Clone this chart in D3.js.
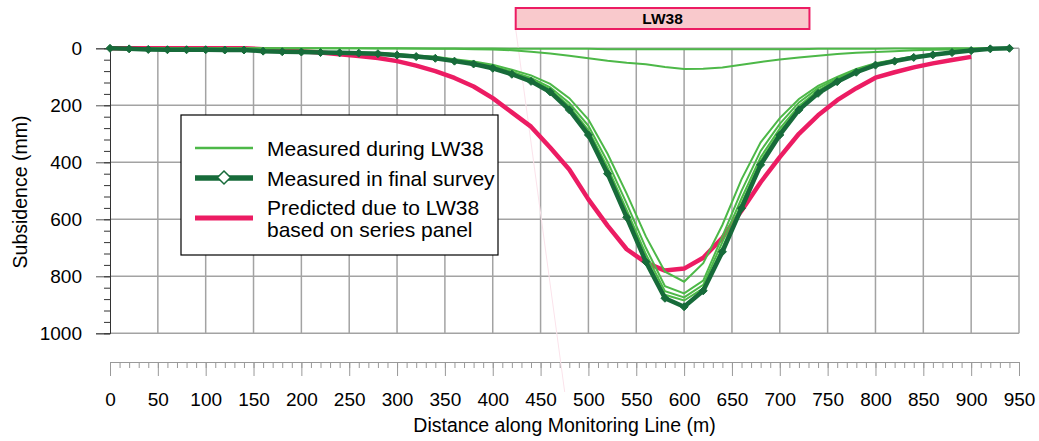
<!DOCTYPE html>
<html>
<head>
<meta charset="utf-8">
<script src="https://cdn.jsdelivr.net/npm/d3@7"></script>
<style>
  body { margin: 0; background: #fff; }
  text { font-family: "Liberation Sans", Arial, sans-serif; fill: #000; }
</style>
</head>
<body>
<script>
// distances along the line (m), every survey peg
const distance = [0,20,40,60,80,100,120,140,160,180,200,220,240,260,280,300,320,340,360,380,
  400,420,440,460,480,500,520,540,560,580,600,620,640,660,680,700,720,740,760,780,
  800,820,840,860,880,900,920,940];

// measured in final survey (mm)
const finalSurvey = [0,2,4,5,5,5,6,6,10,12, 13,15,16,17,19,24,29,35,45,55,
  70,91,116,153,216,304,440,593,749,877, 907,851,714,561,409,304,216,158,117,84,
  59,45,32,23,15,8,2,0];

// measured during LW38 (several surveys)
const duringA = [0,0,0,0,0,0,0,0,0,0, 0,0,0,0,0,0,1,1,1,1,
  1,2,2,2,2,2,3,3,3,3, 3,3,3,3,3,3,3,2,2,2, 2,1,1,1,0,0,0,0];
const duringB = [0,0,0,0,0,0,0,0,0,0, 0,0,0,0,1,1,1,2,2,3,
  4,7,12,18,26,35,44,51,56,66, 73,72,67,58,48,39,32,26,20,16, 13,10,7,5,4,3,1,0];
const duringC = [0,1,3,4,4,4,5,5,8,10, 11,13,14,15,16,20,25,30,38,46,
  58,75,95,125,175,250,370,510,660,784, 819,754,620,460,330,245,178,132,100,72,
  52,40,28,20,13,7,2,0];
const duringD = [0,1,3,4,4,4,5,5,9,11, 12,14,15,16,17,21,27,32,41,50,
  63,82,104,137,192,272,398,545,700,835, 860,815,660,500,360,265,190,140,106,76,
  54,42,30,21,14,7,2,0];
const duringE = [0,2,4,5,5,5,6,6,9,11, 12,14,15,16,18,22,28,33,42,52,
  66,86,109,144,203,288,418,568,722,852, 874,830,680,527,382,282,202,148,111,79,
  56,43,31,22,14,8,2,0];
const duringF = [0,2,4,5,5,5,6,6,10,12, 13,15,16,17,19,23,29,34,44,54,
  68,89,113,149,210,296,430,582,738,865, 885,842,700,545,395,293,209,153,114,81,
  57,44,31,22,15,8,2,0];
const duringSurveys = [duringA, duringB, duringC, duringD, duringE, duringF];

// predicted due to LW38 (0 - 900 m)
const predicted = [0,0,0,0,0,0,0,0,3,6, 10,15,21,27,34,45,61,80,104,134,
  175,225,275,348,425,530,622,705,752,780, 773,735,665,570,470,382,300,235,182,140,
  103,84,67,53,41,30];

const yMajor = [0,200,400,600,800,1000];
const xMajor = [0,50,100,150,200,250,300,350,400,450,500,550,600,650,700,750,800,850,900,950];
const panelName = "LW38";
const panelFrom = 424, panelTo = 731;

const darkGreen = "#176b3a", lightGreen = "#4db848", pink = "#ec1c63";

const svg = d3.select("body").append("svg")
  .attr("width", 1039)
  .attr("height", 441);

const x = d3.scaleLinear().domain([0, 950]).range([110, 1019]);
const y = d3.scaleLinear().domain([0, 1000]).range([48.3, 333.3]);

// grid
svg.append("g").selectAll("line")
  .data(xMajor.slice(1))
  .enter().append("line")
  .attr("x1", d => x(d)).attr("x2", d => x(d))
  .attr("y1", y(0)).attr("y2", y(1000))
  .attr("stroke", "#a3a3a3").attr("stroke-width", 1.5)

svg.append("g").selectAll("line")
  .data(yMajor)
  .enter().append("line")
  .attr("x1", x(0)).attr("x2", x(950))
  .attr("y1", d => y(d)).attr("y2", d => y(d))
  .attr("stroke", "#a3a3a3").attr("stroke-width", 1.5)

// y axis
const yAxis = svg.append("g")
  .attr("transform", `translate(${x(0)},0)`)
  .call(d3.axisLeft(y).tickValues(yMajor).tickSize(14).tickPadding(14).tickFormat(d3.format("d")))
yAxis.select(".domain").attr("stroke", "#333")
yAxis.selectAll(".tick line").attr("stroke", "#555")
yAxis.selectAll("text").style("font-size", "19px").attr("fill", "#000")

const yMinor = svg.append("g")
  .attr("transform", `translate(${x(0)},0)`)
  .call(d3.axisLeft(y).tickValues(d3.range(0, 1001, 40)).tickSize(6).tickFormat(""))
yMinor.select(".domain").remove()
yMinor.selectAll(".tick line").attr("stroke", "#333")

// x axis (set below the plot)
const xb = d3.scaleLinear().domain([0, 950]).range([110, 1019]);
const xAxis = svg.append("g")
  .attr("transform", "translate(0,362)")
  .call(d3.axisBottom(xb).tickValues(xMajor).tickSize(14).tickPadding(17).tickSizeOuter(0))
xAxis.select(".domain").attr("stroke", "#999")
xAxis.selectAll(".tick line").attr("stroke", "#999")
xAxis.selectAll("text").style("font-size", "19px").attr("fill", "#000")

const xMinor = svg.append("g")
  .attr("transform", "translate(0,362)")
  .call(d3.axisBottom(xb).tickValues(d3.range(0, 951, 10)).tickSize(6).tickFormat(""))
xMinor.select(".domain").remove()
xMinor.selectAll(".tick line").attr("stroke", "#999")

// titles
svg.append("text")
  .attr("x", 564.5).attr("y", 431.5)
  .attr("text-anchor", "middle")
  .style("font-size", "19.5px")
  .text("Distance along Monitoring Line (m)")

svg.append("text")
  .attr("transform", "translate(26.5,192) rotate(-90)")
  .attr("text-anchor", "middle")
  .style("font-size", "19.5px")
  .text("Subsidence (mm)")

// panel box
svg.append("line")
  .attr("x1", x(panelFrom)).attr("y1", 29)
  .attr("x2", x(panelFrom) + 49).attr("y2", 392)
  .attr("stroke", "#fbe3eb").attr("stroke-width", 1)

svg.append("rect")
  .attr("x", x(panelFrom)).attr("y", 8)
  .attr("width", x(panelTo) - x(panelFrom)).attr("height", 21)
  .attr("fill", "#f9c9cc").attr("stroke", pink).attr("stroke-width", 2)

svg.append("text")
  .attr("x", (x(panelFrom) + x(panelTo)) / 2).attr("y", 24)
  .attr("text-anchor", "middle")
  .style("font-size", "15.5px").style("font-weight", "bold")
  .text(panelName)

// series
const line = d3.line()
  .x((d, i) => x(distance[i]))
  .y(d => y(d))

svg.append("path")
  .datum(predicted)
  .attr("d", line)
  .attr("fill", "none").attr("stroke", pink).attr("stroke-width", 4.5)
  .attr("stroke-linejoin", "round")

svg.append("g").selectAll("path")
  .data(duringSurveys)
  .enter().append("path")
  .attr("d", line)
  .attr("fill", "none").attr("stroke", lightGreen).attr("stroke-width", 2)

svg.append("path")
  .datum(finalSurvey)
  .attr("d", line)
  .attr("fill", "none").attr("stroke", darkGreen).attr("stroke-width", 4.5)
  .attr("stroke-linejoin", "round")

const diamond = (cx, cy, r) => `M${cx},${cy - r}L${cx + r},${cy}L${cx},${cy + r}L${cx - r},${cy}Z`

svg.append("g").selectAll("path")
  .data(finalSurvey)
  .enter().append("path")
  .attr("d", (d, i) => diamond(x(distance[i]), y(d), 4))
  .attr("fill", darkGreen).attr("stroke", darkGreen).attr("stroke-width", 1)

// legend
const legend = svg.append("g").attr("transform", "translate(181,115)")

legend.append("rect")
  .attr("width", 317).attr("height", 140)
  .attr("fill", "#fff").attr("stroke", "#000").attr("stroke-width", 1.2)

legend.append("line")
  .attr("x1", 14).attr("x2", 72).attr("y1", 33).attr("y2", 33)
  .attr("stroke", lightGreen).attr("stroke-width", 2.5)
legend.append("text").attr("x", 86).attr("y", 40.5)
  .style("font-size", "21px").text("Measured during LW38")

legend.append("line")
  .attr("x1", 14).attr("x2", 72).attr("y1", 63).attr("y2", 63)
  .attr("stroke", darkGreen).attr("stroke-width", 5.5)
legend.append("path")
  .attr("d", diamond(43, 62.5, 6.5))
  .attr("fill", "#fff").attr("stroke", darkGreen).attr("stroke-width", 1.5)
legend.append("text").attr("x", 86).attr("y", 70.5)
  .style("font-size", "21px").text("Measured in final survey")

legend.append("line")
  .attr("x1", 14).attr("x2", 72).attr("y1", 103).attr("y2", 103)
  .attr("stroke", pink).attr("stroke-width", 5)
legend.append("text").attr("x", 86).attr("y", 99.5)
  .style("font-size", "21px").text("Predicted due to LW38")
legend.append("text").attr("x", 86).attr("y", 122)
  .style("font-size", "21px").text("based on series panel")
</script>
</body>
</html>
